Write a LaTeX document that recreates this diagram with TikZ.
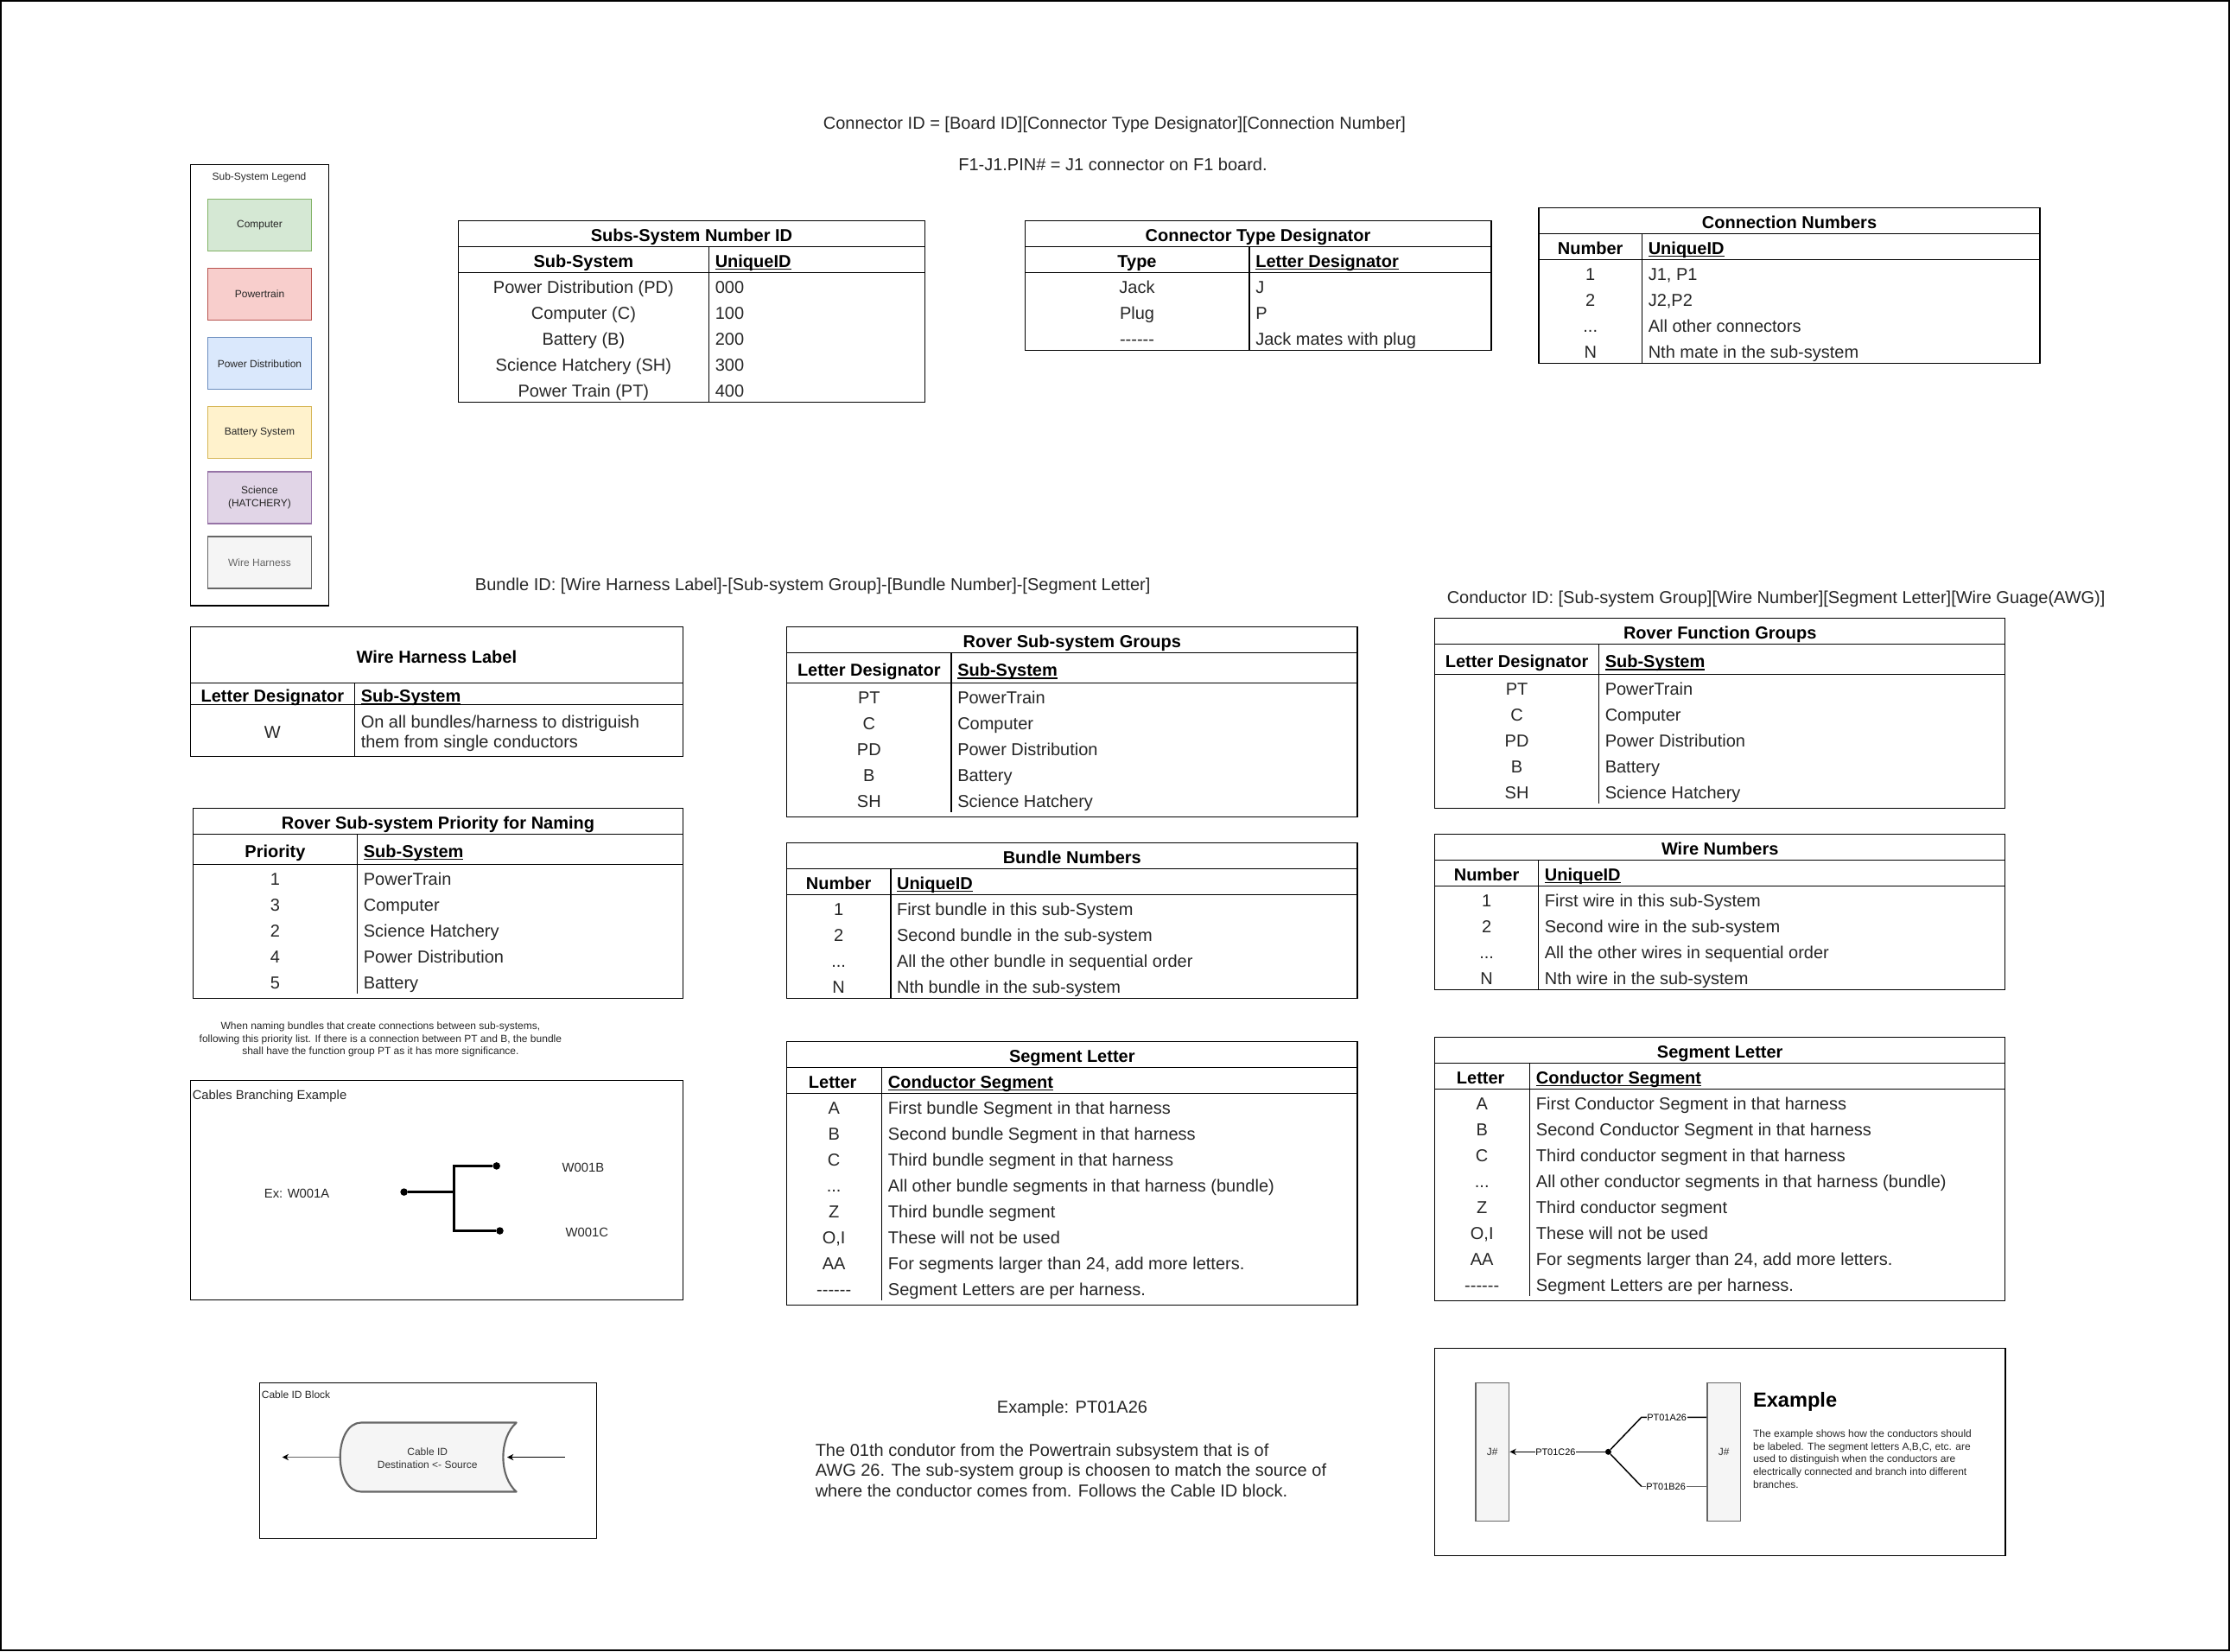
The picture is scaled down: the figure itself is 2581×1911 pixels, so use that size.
\documentclass[tikz,border=0pt]{standalone}
\usepackage{fontspec}
\setmainfont{Liberation Sans}
\usetikzlibrary{arrows.meta}
\newcommand{\tblfont}{\fontsize{15}{17.8}\selectfont}
\newcommand{\smallfont}{\fontsize{9}{11}\selectfont}
\newcommand{\sixdash}{{-}{-}{-}{-}{-}{-}}
\newcommand{\etcdots}{...}
\newcommand{\ulhead}[1]{\setbox0\hbox{#1}\rlap{\rule[-2.2pt]{\wd0}{1.1pt}}\box0}
\definecolor{boxgray}{HTML}{666666}
\definecolor{txtgray}{HTML}{333333}
\definecolor{txtdark}{HTML}{262626}
\definecolor{fillgray}{HTML}{F5F5F5}
\definecolor{compfill}{HTML}{D5E8D4}\definecolor{compline}{HTML}{82B366}
\definecolor{ptfill}{HTML}{F8CECC}\definecolor{ptline}{HTML}{B85450}
\definecolor{pdfill}{HTML}{DAE8FC}\definecolor{pdline}{HTML}{6C8EBF}
\definecolor{batfill}{HTML}{FFF2CC}\definecolor{batline}{HTML}{D6B656}
\definecolor{scifill}{HTML}{E1D5E7}\definecolor{sciline}{HTML}{9673A6}
\tikzset{
  tbl/.style={line width=1.1pt},
  lbl/.style={inner sep=0pt,text height=10.7pt,text depth=0pt,text=txtdark,font=\tblfont},
  cellc/.style={lbl,yshift=-1.3pt},
  celll/.style={cellc,anchor=west},
  headc/.style={cellc,text=black,font=\tblfont\bfseries},
  headl/.style={celll,text=black,font=\tblfont\bfseries},
  para/.style={inner sep=0pt,align=left,anchor=west,text=txtdark,font=\tblfont},
  legend/.style 2 args={draw=#2,fill=#1,line width=1.1pt,minimum width=90pt,minimum height=45pt,inner sep=0pt,align=center,text=txtdark,font=\smallfont},
  smalltxt/.style={inner sep=0pt,align=center,text=txtdark,font=\smallfont},
  midtxt/.style={inner sep=0pt,text=txtdark,font=\fontsize{11.1}{13.3}\selectfont},
  bus/.style={line width=2.5pt},
  busdot/.style={circle,fill=black,inner sep=0pt,minimum size=6.4pt},
  jack/.style={draw=boxgray,fill=fillgray,line width=1.1pt,minimum width=29.1pt,minimum height=120pt,inner sep=0pt,text height=6.5pt,text depth=0pt,text=txtgray,font=\smallfont},
  wire/.style={line width=1.1pt},
  wlabel/.style={fill=white,inner sep=0.5pt,font=\fontsize{8.2}{10}\selectfont},
  tip/.style={-{Stealth[length=5.5pt,width=5.5pt,color=black]}}
}
\begin{document}
\begin{tikzpicture}[x=0.75pt,y=0.75pt,yscale=-1,xscale=1]
\useasboundingbox (0,0) rectangle (2581,1911);
%Shape: Page frame
\draw [tbl] (0.8,0.8) rectangle (2580.2,1910.2);

% Text Node
\node [lbl] (connid) at (1290,142) {Connector ID = [Board ID][Connector Type Designator][Connection Number]};
\node [lbl] (pinid) at (1288,190) {F1-J1.PIN\# = J1 connector on F1 board.};
\node [lbl] (bundleid) at (940.7,676.5) {Bundle ID: [Wire Harness Label]-[Sub-system Group]-[Bundle Number]-[Segment Letter]};
\node [lbl] (condid) at (2055.6,691) {Conductor ID: [Sub-system Group][Wire Number][Segment Letter][Wire Guage(AWG)]};

%Shape: Sub-system legend
\draw [tbl] (220.3,190.3) rectangle (380.3,701);
\node [smalltxt] (legendtitle) at (300,205.4) {Sub-System Legend};
\node [legend={compfill}{compline}] (legcomp) at (300.5,260.5) {Computer};
\node [legend={ptfill}{ptline}] (legpt) at (300.5,340.5) {Powertrain};
\node [legend={pdfill}{pdline}] (legpd) at (300.5,420.7) {Power Distribution};
\node [legend={batfill}{batline}] (legbat) at (300.5,500.7) {Battery System};
\node [legend={scifill}{sciline}] (legsci) at (300.5,576) {Science\\(HATCHERY)};
\node [legend={fillgray}{boxgray},text=boxgray] (legwire) at (300.5,651) {Wire Harness};

%Table: Subs-System Number ID
\draw [tbl] (530.4,255.3) rectangle (1070.5,465.3);
\draw [tbl] (530.4,285.3) -- (1070.5,285.3) (530.4,315.3) -- (1070.5,315.3) (820.5,285.3) -- (820.5,465.3);
\node [headc] (sidtitle) at (800.5,270.3) {Subs-System Number ID};
\node [headc] (sidhl) at (675.4,300.3) {Sub-System};
\node [headl] (sidhr) at (827.5,300.3) {\ulhead{UniqueID}};
\foreach \a/\b [count=\n] in {Power Distribution (PD)/000,Computer (C)/100,Battery (B)/200,Science Hatchery (SH)/300,Power Train (PT)/400}{
  \node [cellc] (sidl\n) at (675.4,300.3+30*\n) {\a};
  \node [celll] (sidr\n) at (827.5,300.3+30*\n) {\b};
}

%Table: Connector Type Designator
\draw [tbl] (1186.3,255.3) rectangle (1726,405.3);
\draw [tbl] (1186.3,285.3) -- (1726,285.3) (1186.3,315.3) -- (1726,315.3) (1446,285.3) -- (1446,405.3);
\node [headc] (typetitle) at (1456,270.3) {Connector Type Designator};
\node [headc] (typehl) at (1316,300.3) {Type};
\node [headl] (typehr) at (1453,300.3) {\ulhead{Letter Designator}};
\foreach \a/\b [count=\n] in {Jack/J,Plug/P,\sixdash/Jack mates with plug}{
  \node [cellc] (typel\n) at (1316,300.3+30*\n) {\a};
  \node [celll] (typer\n) at (1453,300.3+30*\n) {\b};
}

%Table: Connection Numbers
\draw [tbl] (1781,240.3) rectangle (2361,420.3);
\draw [tbl] (1781,270.3) -- (2361,270.3) (1781,300.3) -- (2361,300.3) (1900.5,270.3) -- (1900.5,420.3);
\node [headc] (connumtitle) at (2071,255.3) {Connection Numbers};
\node [headc] (connumhl) at (1840.7,285.3) {Number};
\node [headl] (connumhr) at (1907.5,285.3) {\ulhead{UniqueID}};
\foreach \a/\b [count=\n] in {1/{J1, P1},2/{J2,P2},\etcdots/All other connectors,N/Nth mate in the sub-system}{
  \node [cellc] (connuml\n) at (1840.7,285.3+30*\n) {\a};
  \node [celll] (connumr\n) at (1907.5,285.3+30*\n) {\b};
}

%Table: Wire Harness Label
\draw [tbl] (220.3,725.3) rectangle (790.5,875.3);
\draw [tbl] (220.3,790.3) -- (790.5,790.3) (220.3,815.3) -- (790.5,815.3) (410.5,790.3) -- (410.5,875.3);
\node [headc] (whtitle) at (505.4,758.5) {Wire Harness Label};
\node [headc] (whhl) at (315.4,803.5) {Letter Designator};
\node [headl] (whhr) at (417.5,803.5) {\ulhead{Sub-System}};
\node [cellc] (whl1) at (315.4,845.3) {W};
\node [para] (whr1) at (417.5,848.8) {On all bundles/harness to distriguish\\them from single conductors};

%Table: Rover Sub-system Priority for Naming
\draw [tbl] (223.4,935.3) rectangle (790.5,1155.3);
\draw [tbl] (223.4,965.3) -- (790.5,965.3) (223.4,1000.3) -- (790.5,1000.3) (413.6,965.3) -- (413.6,1150.3);
\node [headc] (priotitle) at (507,950.3) {Rover Sub-system Priority for Naming};
\node [headc] (priohl) at (318.5,983.5) {Priority};
\node [headl] (priohr) at (420.6,983.5) {\ulhead{Sub-System}};
\foreach \a/\b [count=\n] in {1/PowerTrain,3/Computer,2/Science Hatchery,4/Power Distribution,5/Battery}{
  \node [cellc] (priol\n) at (318.5,985.3+30*\n) {\a};
  \node [celll] (prior\n) at (420.6,985.3+30*\n) {\b};
}

% Text Node
\node [smalltxt] (prionote) at (440.4,1203) {When naming bundles that create connections between sub-systems,\\following this priority list. If there is a connection between PT and B, the bundle\\shall have the function group PT as it has more significance.};

%Shape: Cables branching example
\draw [tbl] (220.3,1250.6) rectangle (790.5,1504.5);
\node [midtxt,anchor=west] (branchtitle) at (222.5,1268.2) {Cables Branching Example};
\node [midtxt] (branchex) at (343.6,1381.1) {Ex: W001A};
\node [midtxt] (branchb) at (675,1350.9) {W001B};
\node [midtxt] (branchc) at (679.4,1426) {W001C};
\node [busdot] (dota) at (467.6,1379.6) {};
\node [busdot] (dotb) at (574.7,1349.4) {};
\node [busdot] (dotc) at (578.5,1424.5) {};
\coordinate (trunk) at (525.3,1379.6);
\draw [bus] (dota) -- (trunk);
\draw [bus] (dotb) -- (dotb -| trunk) -- (dotc -| trunk) -- (dotc);

%Shape: Cable ID block
\draw [tbl] (300.3,1600.4) rectangle (690.3,1780.4);
\node [smalltxt,anchor=west] (blocktitle) at (302.6,1613.9) {Cable ID Block};
\draw [draw=boxgray,fill=fillgray,line width=1.6pt,line join=round] (597.7,1646.5) -- (418,1646.5) .. controls (403,1646.5) and (393.7,1665) .. (393.7,1686.5) .. controls (393.7,1708) and (403,1726.5) .. (418,1726.5) -- (597.7,1726.5) .. controls (588,1718) and (582.4,1703) .. (582.4,1686.5) .. controls (582.4,1670) and (588,1655) .. (597.7,1646.5) -- cycle ;
\node [smalltxt,text=txtgray] (block) at (494.7,1687.5) {Cable ID\\Destination <- Source};
\coordinate (blockw) at (393.7,1686.5);
\coordinate (blockout) at (326.7,1686.5);
\coordinate (blocke) at (587,1686.5);
\coordinate (blockin) at (654,1686.5);
\draw [tip,draw=boxgray,line width=1.1pt] (blockw) -- (blockout);
\draw [tip,line width=0.8pt] (blockin) -- (blocke);

%Table: Rover Sub-system Groups
\draw [tbl] (910.6,725.3) rectangle (1571,945.3);
\draw [tbl] (910.6,755.3) -- (1571,755.3) (910.6,790.3) -- (1571,790.3) (1100.9,755.3) -- (1100.9,940.3);
\node [headc] (grptitle) at (1240.8,740.3) {Rover Sub-system Groups};
\node [headc] (grphl) at (1005.8,774) {Letter Designator};
\node [headl] (grphr) at (1108,774) {\ulhead{Sub-System}};
\foreach \a/\b [count=\n] in {PT/PowerTrain,C/Computer,PD/Power Distribution,B/Battery,SH/Science Hatchery}{
  \node [cellc] (grpl\n) at (1005.8,775.3+30*\n) {\a};
  \node [celll] (grpr\n) at (1108,775.3+30*\n) {\b};
}

%Table: Bundle Numbers
\draw [tbl] (910.6,975.3) rectangle (1571,1155.3);
\draw [tbl] (910.6,1005.3) -- (1571,1005.3) (910.6,1035.3) -- (1571,1035.3) (1030.8,1005.3) -- (1030.8,1155.3);
\node [headc] (bndtitle) at (1240.8,990.3) {Bundle Numbers};
\node [headc] (bndhl) at (970.7,1020.3) {Number};
\node [headl] (bndhr) at (1037.8,1020.3) {\ulhead{UniqueID}};
\foreach \a/\b [count=\n] in {1/First bundle in this sub-System,2/Second bundle in the sub-system,\etcdots/All the other bundle in sequential order,N/Nth bundle in the sub-system}{
  \node [cellc] (bndl\n) at (970.7,1020.3+30*\n) {\a};
  \node [celll] (bndr\n) at (1037.8,1020.3+30*\n) {\b};
}

%Table: Segment Letter (bundles)
\draw [tbl] (910.6,1205.3) rectangle (1571,1510.3);
\draw [tbl] (910.6,1235.3) -- (1571,1235.3) (910.6,1265.3) -- (1571,1265.3) (1020.7,1235.3) -- (1020.7,1505.3);
\node [headc] (segtitle) at (1240.8,1220.3) {Segment Letter};
\node [headc] (seghl) at (963.7,1250.3) {Letter};
\node [headl] (seghr) at (1027.7,1250.3) {\ulhead{Conductor Segment}};
\foreach \a/\b [count=\n] in {A/First bundle Segment in that harness,B/Second bundle Segment in that harness,C/Third bundle segment in that harness,\etcdots/All other bundle segments in that harness (bundle),Z/Third bundle segment,{O,I}/These will not be used,AA/{For segments larger than 24, add more letters.},\sixdash/Segment Letters are per harness.}{
  \node [cellc] (segl\n) at (965.2,1250.3+30*\n) {\a};
  \node [celll] (segr\n) at (1027.7,1250.3+30*\n) {\b};
}

% Text Node
\node [lbl] (extitle) at (1241,1628.5) {Example: PT01A26};
\node [para] (exbody) at (943.5,1701.6) {The 01th condutor from the Powertrain subsystem that is of\\AWG 26. The sub-system group is choosen to match the source of\\where the conductor comes from. Follows the Cable ID block.};

%Table: Rover Function Groups
\draw [tbl] (1660.7,715.3) rectangle (2320.7,935.3);
\draw [tbl] (1660.7,745.3) -- (2320.7,745.3) (1660.7,780.3) -- (2320.7,780.3) (1850.5,745.3) -- (1850.5,930.3);
\node [headc] (funtitle) at (1990.7,730.3) {Rover Function Groups};
\node [headc] (funhl) at (1755.6,764) {Letter Designator};
\node [headl] (funhr) at (1857.5,764) {\ulhead{Sub-System}};
\foreach \a/\b [count=\n] in {PT/PowerTrain,C/Computer,PD/Power Distribution,B/Battery,SH/Science Hatchery}{
  \node [cellc] (funl\n) at (1755.6,765.3+30*\n) {\a};
  \node [celll] (funr\n) at (1857.5,765.3+30*\n) {\b};
}

%Table: Wire Numbers
\draw [tbl] (1660.7,965.3) rectangle (2320.7,1145.3);
\draw [tbl] (1660.7,995.3) -- (2320.7,995.3) (1660.7,1025.3) -- (2320.7,1025.3) (1780.6,995.3) -- (1780.6,1145.3);
\node [headc] (wirtitle) at (1990.7,980.3) {Wire Numbers};
\node [headc] (wirhl) at (1720.6,1010.3) {Number};
\node [headl] (wirhr) at (1787.6,1010.3) {\ulhead{UniqueID}};
\foreach \a/\b [count=\n] in {1/First wire in this sub-System,2/Second wire in the sub-system,\etcdots/All the other wires in sequential order,N/Nth wire in the sub-system}{
  \node [cellc] (wirl\n) at (1720.6,1010.3+30*\n) {\a};
  \node [celll] (wirr\n) at (1787.6,1010.3+30*\n) {\b};
}

%Table: Segment Letter (conductors)
\draw [tbl] (1660.7,1200.3) rectangle (2320.7,1505.3);
\draw [tbl] (1660.7,1230.3) -- (2320.7,1230.3) (1660.7,1260.3) -- (2320.7,1260.3) (1770.7,1230.3) -- (1770.7,1500.3);
\node [headc] (cndtitle) at (1990.7,1215.3) {Segment Letter};
\node [headc] (cndhl) at (1713.7,1245.3) {Letter};
\node [headl] (cndhr) at (1777.7,1245.3) {\ulhead{Conductor Segment}};
\foreach \a/\b [count=\n] in {A/First Conductor Segment in that harness,B/Second Conductor Segment in that harness,C/Third conductor segment in that harness,\etcdots/All other conductor segments in that harness (bundle),Z/Third conductor segment,{O,I}/These will not be used,AA/{For segments larger than 24, add more letters.},\sixdash/Segment Letters are per harness.}{
  \node [cellc] (cndl\n) at (1715.2,1245.3+30*\n) {\a};
  \node [celll] (cndr\n) at (1777.7,1245.3+30*\n) {\b};
}

%Shape: Conductor example
\draw [tbl] (1660.6,1560.3) rectangle (2320.8,1800.3);
\node [jack] (jackl) at (1727.3,1680.3) {J\#};
\node [jack] (jackr) at (1995.2,1680.3) {J\#};
\node [circle,fill=black,inner sep=0pt,minimum size=5.2pt] (split) at (1861.4,1680.3) {};
\coordinate (kneea) at (1899.8,1640.3);
\coordinate (kneeb) at (1899.8,1720.3);
\draw [wire,tip] (split) -- node [wlabel,pos=.52] (labc) {PT01C26} (jackl);
\draw [wire] (split) -- (kneea) -- node [wlabel,pos=.39] (laba) {PT01A26} (kneea -| jackr.west);
\draw [wire] (split) -- (kneeb);
\draw [wire,draw=boxgray] (kneeb) -- node [wlabel,pos=.375,text=black] (labb) {PT01B26} (kneeb -| jackr.west);
\node [anchor=west,inner sep=0pt,font=\fontsize{17.7}{20}\selectfont\bfseries] (extext) at (2028.8,1622.5) {Example};
\node [inner sep=0pt,align=left,anchor=west,text=txtdark,font=\fontsize{9}{11}\selectfont] (exnote) at (2028.8,1688.5) {The example shows how the conductors should\\be labeled. The segment letters A,B,C, etc. are\\used to distinguish when the conductors are\\electrically connected and branch into different\\branches.};
\end{tikzpicture}
\end{document}
